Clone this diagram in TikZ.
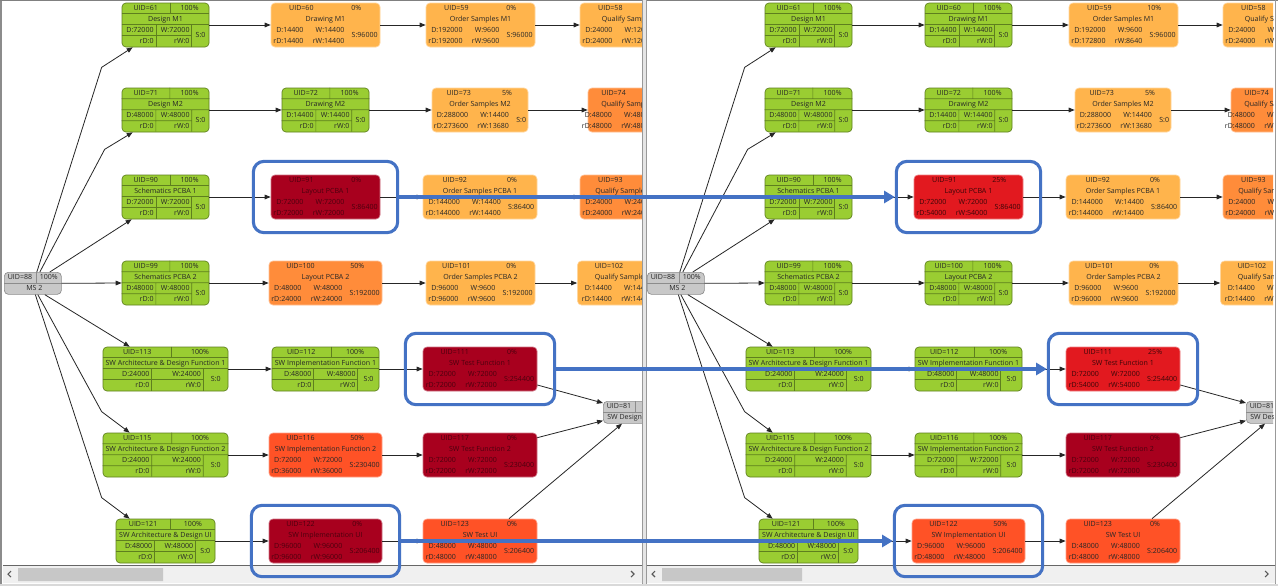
\documentclass[tikz,border=0pt]{standalone}
\usepackage{fontspec}
\setmainfont{Open Sans}
\usepackage{tikz}
\usepackage{xcolor}
\usetikzlibrary{arrows.meta, positioning, calc, fit}

\definecolor{tGreen}{HTML}{9ACD32}
\definecolor{tGreenline}{HTML}{5E7F1E}
\definecolor{tLight}{HTML}{FFB44C}
\definecolor{tOrange}{HTML}{FF8C3A}
\definecolor{tRedOr}{HTML}{FF5226}
\definecolor{tDark}{HTML}{A8001E}
\definecolor{tRed}{HTML}{E2191F}
\definecolor{tGrey}{HTML}{C8C8C8}
\definecolor{hlBlue}{HTML}{4472C4}
\colorlet{tLighttxt}{black!85}
\colorlet{tOrangetxt}{black!85}
\colorlet{tRedOrtxt}{black!85}
\colorlet{tDarktxt}{black!55!tDark}
\colorlet{tRedtxt}{black!75!tRed}

\tikzset{
  txt/.style={font=\fontsize{5.3}{8.25}\selectfont, inner sep=0pt, text height=4pt, text depth=1.1pt, text=black!85},
  tab/.style={font=\fontsize{5.3}{8.25}\selectfont, inner sep=0pt},
  gbox/.style={draw=tGreenline, fill=tGreen, rounded corners=3pt, minimum height=33pt, inner sep=0pt, line width=0.5pt},
  cbox/.style={draw=#1!55!white, fill=#1, rounded corners=3pt, minimum height=33pt, inner sep=0pt, line width=0.5pt},
  mbox/.style={draw=black!45, fill=tGrey, rounded corners=3pt, minimum height=16.5pt, inner sep=0pt, line width=0.5pt},
  gline/.style={draw=tGreenline, line width=0.5pt},
  mline/.style={draw=black!45, line width=0.5pt},
  dep/.style={draw=black!85, line width=0.6pt, -{Triangle[length=4.5pt,width=3.5pt]}},
  hl/.style={draw=hlBlue, line width=2.3pt, rounded corners=8pt, inner xsep=13pt, inner ysep=10pt},
  hlarrow/.style={draw=hlBlue, line width=2.3pt, -{Triangle[length=8pt,width=9pt]}},
}

% green task with grid: name, x centre, top, width, uid, percent, title
\newcommand{\gtask}[7]{%
  \node[gbox, minimum width=#4*0.75pt] (#1) at (#2,#3+22) {};
  \draw[gline] ($(#1.north west)+(0,11)$) -- ($(#1.north east)+(0,11)$)
               ($(#1.north west)+(0,22)$) -- ($(#1.north east)+(0,22)$)
               ($(#1.north west)!0.55!(#1.north east)$) -- ++(0,11)
               ($(#1.north west)!0.39!(#1.north east)+(0,22)$) -- ++(0,22)
               ($(#1.north west)!0.8!(#1.north east)+(0,22)$) -- ++(0,22)
               ($(#1.north west)+(0,33)$) -- ($(#1.north west)!0.8!(#1.north east)+(0,33)$);
  \node[txt] (#1u) at ($(#1.north west)!0.275!(#1.north east)+(0,5.5)$) {#5};
  \node[txt] (#1p) at ($(#1.north west)!0.775!(#1.north east)+(0,5.5)$) {#6};
  \node[txt] (#1t) at ($(#1.north)+(0,16.5)$) {#7};
}
\newcommand{\gvals}[6]{%
  \node[txt, anchor=east] (#1d) at ($(#1.north west)!0.39!(#1.north east)+(-2,27.5)$) {#2};
  \node[txt, anchor=east] (#1w) at ($(#1.north west)!0.8!(#1.north east)+(-2,27.5)$) {#3};
  \node[txt, anchor=east] (#1rd) at ($(#1.north west)!0.39!(#1.north east)+(-2,38.5)$) {#4};
  \node[txt, anchor=east] (#1rw) at ($(#1.north west)!0.8!(#1.north east)+(-2,38.5)$) {#5};
  \node[txt] (#1s) at ($(#1.north west)!0.9!(#1.north east)+(0,33)$) {#6};
}
% coloured task: name, x centre, top, width, colour, uid, percent, title
\newcommand{\ctask}[8]{%
  \node[cbox=#5, minimum width=#4*0.75pt] (#1) at (#2,#3+22) {};
  \node[txt, text=#5txt] (#1u) at ($(#1.north west)!0.28!(#1.north east)+(0,5.5)$) {#6};
  \node[txt, text=#5txt] (#1p) at ($(#1.north west)!0.78!(#1.north east)+(0,5.5)$) {#7};
  \node[txt, text=#5txt] (#1t) at ($(#1.north)+(0,16.5)$) {#8};
}
\newcommand{\cvals}[7]{%
  \node[tab, text=#2txt] (#1v) at ($(#1.north)+(0,33)$)
    {\begin{tabular}{@{}c@{\hspace{5.5pt}}c@{}}\begin{tabular}{@{}r@{\hspace{7pt}}r@{}}#3&#4\\#5&#6\end{tabular}&#7\end{tabular}};
}
% milestone: name, left, top, width, uid, percent, title, title offset
\newcommand{\mtask}[8]{%
  \node[mbox, minimum width=#4*0.75pt, anchor=north west] (#1) at (#2,#3) {};
  \draw[mline] ($(#1.north west)+(0,11)$) -- ($(#1.north east)+(0,11)$)
               ($(#1.north west)+(32,0)$) -- ++(0,11);
  \node[txt] (#1u) at ($(#1.north west)+(16,5.5)$) {#5};
  \node[txt] (#1p) at ($(#1.north west)!0.5!(#1.north east)+(16,5.5)$) {#6};
  \node[txt, anchor=west] (#1t) at ($(#1.north west)+(#8,16.5)$) {#7};
}

\newcommand{\sharedtasks}[1]{%
  \gtask{#1dm1}{165.5}{3}{87}{UID=61}{100\%}{Design M1}
  \gvals{#1dm1}{D:72000}{W:72000}{rD:0}{rW:0}{S:0}
  \ctask{#1qs1}{634.5}{3}{109}{tLight}{UID=58}{}{Qualify Samples M1}
  \cvals{#1qs1}{tLight}{D:24000}{W:12000}{rD:24000}{rW:12000}{\phantom{S:00000}}
  \gtask{#1dm2}{165.5}{88}{87}{UID=71}{100\%}{Design M2}
  \gvals{#1dm2}{D:48000}{W:48000}{rD:0}{rW:0}{S:0}
  \gtask{#1dw2}{325.5}{88}{87}{UID=72}{100\%}{Drawing M2}
  \gvals{#1dw2}{D:14400}{W:14400}{rD:0}{rW:0}{S:0}
  \ctask{#1os2}{480}{88}{96}{tLight}{UID=73}{5\%}{Order Samples M2}
  \cvals{#1os2}{tLight}{D:288000}{W:14400}{rD:273600}{rW:13680}{S:0}
  \ctask{#1qs2}{634}{88}{92}{tOrange}{UID=74}{}{Qualify Samples M2}
  \cvals{#1qs2}{tOrange}{D:48000}{W:48000}{rD:48000}{rW:48000}{\phantom{S:00000}}
  \gtask{#1sp1}{165.5}{175}{87}{UID=90}{100\%}{Schematics PCBA 1}
  \gvals{#1sp1}{D:72000}{W:72000}{rD:0}{rW:0}{S:0}
  \ctask{#1op1}{480}{175}{114}{tLight}{UID=92}{0\%}{Order Samples PCBA 1}
  \cvals{#1op1}{tLight}{D:144000}{W:14400}{rD:144000}{rW:14400}{S:86400}
  \ctask{#1qp1}{634.5}{175}{109}{tOrange}{UID=93}{}{Qualify Samples PCBA 1}
  \cvals{#1qp1}{tOrange}{D:24000}{W:24000}{rD:24000}{rW:24000}{\phantom{S:00000}}
  \mtask{#1ms2}{4}{272}{57}{UID=88}{100\%}{MS 2}{22}
  \gtask{#1sp2}{165.5}{261}{87}{UID=99}{100\%}{Schematics PCBA 2}
  \gvals{#1sp2}{D:48000}{W:48000}{rD:0}{rW:0}{S:0}
  \ctask{#1op2}{480.5}{261}{109}{tLight}{UID=101}{0\%}{Order Samples PCBA 2}
  \cvals{#1op2}{tLight}{D:96000}{W:9600}{rD:96000}{rW:9600}{S:192000}
  \ctask{#1qp2}{634}{261}{113}{tLight}{UID=102}{}{Qualify Samples PCBA 2}
  \cvals{#1qp2}{tLight}{D:14400}{W:14400}{rD:14400}{rW:14400}{\phantom{S:00000}}
  \gtask{#1sa1}{165.5}{347}{125}{UID=113}{100\%}{SW Architecture \& Design Function 1}
  \gvals{#1sa1}{D:24000}{W:24000}{rD:0}{rW:0}{S:0}
  \gtask{#1si1}{325.5}{347}{107}{UID=112}{100\%}{SW Implementation Function 1}
  \gvals{#1si1}{D:48000}{W:48000}{rD:0}{rW:0}{S:0}
  \gtask{#1sa2}{165.5}{433}{125}{UID=115}{100\%}{SW Architecture \& Design Function 2}
  \gvals{#1sa2}{D:24000}{W:24000}{rD:0}{rW:0}{S:0}
  \ctask{#1st2}{480}{433}{114}{tDark}{UID=117}{0\%}{SW Test Function 2}
  \cvals{#1st2}{tDark}{D:72000}{W:72000}{rD:72000}{rW:72000}{S:230400}
  \gtask{#1sau}{165.5}{519}{99}{UID=121}{100\%}{SW Architecture \& Design UI}
  \gvals{#1sau}{D:48000}{W:48000}{rD:0}{rW:0}{S:0}
  \ctask{#1stu}{480}{519}{114}{tRedOr}{UID=123}{0\%}{SW Test UI}
  \cvals{#1stu}{tRedOr}{D:48000}{W:48000}{rD:48000}{rW:48000}{S:206400}
  \mtask{#1sd}{603}{401}{80}{UID=81}{}{SW Design}{4}
}

\newcommand{\links}[1]{%
  \foreach \a/\b in {dm1/dw1, dw1/os1, os1/qs1, dm2/dw2, dw2/os2, os2/qs2,
                     sp1/lp1, lp1/op1, op1/qp1, sp2/lp2, lp2/op2, op2/qp2,
                     sa1/si1, si1/st1, sa2/si2, si2/st2, sau/siu, siu/stu}
    \draw[dep] (#1\a.east) -- (#1\b.west);
  \draw[dep] ($(#1ms2.north)+(4,0)$) -- ($(#1dm1.south west)+(-20,20)$) -- ($(#1dm1.south west)+(11,0)$);
  \draw[dep] ($(#1ms2.north)+(7,0)$) -- ($(#1dm2.south west)+(-17,17)$) -- ($(#1dm2.south west)+(11,0)$);
  \draw[dep] ($(#1ms2.north)+(17,0)$) -- ($(#1sp1.south west)+(10,0)$);
  \draw[dep] (#1ms2.east) -- (#1sp2.west);
  \draw[dep] ($(#1ms2.south)+(12,0)$) -- ($(#1sa1.north west)+(27,0)$);
  \draw[dep] ($(#1ms2.south)+(5,0)$) -- ($(#1sa2.north west)+(-1,-21)$) -- ($(#1sa2.north west)+(27,0)$);
  \draw[dep] ($(#1ms2.south)+(2.5,0)$) -- ($(#1sau.north west)+(-14,-21)$) -- ($(#1sau.north west)+(14,0)$);
  \draw[dep] ($(#1st1.east)+(0,16)$) -- ($(#1sd.north west)+(0,2)$);
  \draw[dep] ($(#1st2.north east)+(0,5)$) -- ($(#1sd.south west)+(0,-3)$);
  \draw[dep] ($(#1stu.north)+(29,0)$) -- ($(#1sd.south west)+(19,0)$);
}

\begin{document}
\begin{tikzpicture}[x=0.75pt, y=-0.75pt]
  \useasboundingbox (0,0) rectangle (1278,586);
  \fill[white] (0,0) rectangle (1278,586);

  % before
  \begin{scope}
    \clip (3,1) rectangle (642,565);
    \sharedtasks{L}
    \ctask{Ldw1}{325.5}{3}{109}{tLight}{UID=60}{0\%}{Drawing M1}
    \cvals{Ldw1}{tLight}{D:14400}{W:14400}{rD:14400}{rW:14400}{S:96000}
    \ctask{Los1}{480.5}{3}{109}{tLight}{UID=59}{0\%}{Order Samples M1}
    \cvals{Los1}{tLight}{D:192000}{W:9600}{rD:192000}{rW:9600}{S:96000}
    \ctask{Llp1}{325.5}{175}{109}{tDark}{UID=91}{0\%}{Layout PCBA 1}
    \cvals{Llp1}{tDark}{D:72000}{W:72000}{rD:72000}{rW:72000}{S:86400}
    \ctask{Llp2}{325.5}{261}{113}{tOrange}{UID=100}{50\%}{Layout PCBA 2}
    \cvals{Llp2}{tOrange}{D:48000}{W:48000}{rD:24000}{rW:24000}{S:192000}
    \ctask{Lst1}{480}{347}{114}{tDark}{UID=111}{0\%}{SW Test Function 1}
    \cvals{Lst1}{tDark}{D:72000}{W:72000}{rD:72000}{rW:72000}{S:254400}
    \ctask{Lsi2}{325.5}{433}{113}{tRedOr}{UID=116}{50\%}{SW Implementation Function 2}
    \cvals{Lsi2}{tRedOr}{D:72000}{W:72000}{rD:36000}{rW:36000}{S:230400}
    \ctask{Lsiu}{325.5}{519}{113}{tDark}{UID=122}{0\%}{SW Implementation UI}
    \cvals{Lsiu}{tDark}{D:96000}{W:96000}{rD:96000}{rW:96000}{S:206400}
    \links{L}
  \end{scope}

  % after
  \begin{scope}[xshift=482.25pt]
    \clip (2,1) rectangle (630,565);
    \sharedtasks{R}
    \gtask{Rdw1}{325.5}{3}{87}{UID=60}{100\%}{Drawing M1}
    \gvals{Rdw1}{D:14400}{W:14400}{rD:0}{rW:0}{S:0}
    \ctask{Ros1}{480.5}{3}{109}{tLight}{UID=59}{10\%}{Order Samples M1}
    \cvals{Ros1}{tLight}{D:192000}{W:9600}{rD:172800}{rW:8640}{S:96000}
    \ctask{Rlp1}{325.5}{175}{109}{tRed}{UID=91}{25\%}{Layout PCBA 1}
    \cvals{Rlp1}{tRed}{D:72000}{W:72000}{rD:54000}{rW:54000}{S:86400}
    \gtask{Rlp2}{325.5}{261}{87}{UID=100}{100\%}{Layout PCBA 2}
    \gvals{Rlp2}{D:48000}{W:48000}{rD:0}{rW:0}{S:0}
    \ctask{Rst1}{480}{347}{114}{tRed}{UID=111}{25\%}{SW Test Function 1}
    \cvals{Rst1}{tRed}{D:72000}{W:72000}{rD:54000}{rW:54000}{S:254400}
    \gtask{Rsi2}{325.5}{433}{107}{UID=116}{100\%}{SW Implementation Function 2}
    \gvals{Rsi2}{D:72000}{W:72000}{rD:0}{rW:0}{S:0}
    \ctask{Rsiu}{325.5}{519}{113}{tRedOr}{UID=122}{50\%}{SW Implementation UI}
    \cvals{Rsiu}{tRedOr}{D:96000}{W:96000}{rD:48000}{rW:48000}{S:206400}
    \links{R}
  \end{scope}

  % window frame and scroll bars
  \fill[black!45] (0,0) rectangle (2,586);
  \draw[black!50, line width=0.75pt] (0,0.5) -- (1278,0.5);
  \fill[black!10] (642,0) rectangle (647,586);
  \draw[black!40, line width=0.6pt] (642,0) -- (642,586) (646.5,0) -- (646.5,586);
  \draw[black!40, line width=0.6pt] (1275,0) -- (1275,586);
  \fill[black!6] (3,566) rectangle (642,583) (647,566) rectangle (1275,583);
  \draw[black!60, line width=0.75pt] (3,565.5) -- (642,565.5) (647,565.5) -- (1275,565.5);
  \fill[black!22] (18,568) rectangle (163,581) (662,568) rectangle (802,581);
  \draw[black!65, line width=0.8pt] (11,571) -- (8,574) -- (11,577) (631,571) -- (634,574) -- (631,577)
                                    (655,571) -- (652,574) -- (655,577) (1265,571) -- (1268,574) -- (1265,577);
  \fill[black!15] (0,584) rectangle (1278,586);

  % highlighted changes
  \node[hl, fit=(Llp1)] (Lhl1) {};
  \node[hl, fit=(Lst1)] (Lhl2) {};
  \node[hl, fit=(Lsiu)] (Lhl3) {};
  \node[hl, fit=(Rlp1)] (Rhl1) {};
  \node[hl, fit=(Rst1)] (Rhl2) {};
  \node[hl, fit=(Rsiu)] (Rhl3) {};
  \draw[hlarrow] (Lhl1.east) -- (Rhl1.west);
  \draw[hlarrow] (Lhl2.east) -- (Rhl2.west);
  \draw[hlarrow] (Lhl3.east) -- (Rhl3.west);
\end{tikzpicture}
\end{document}
